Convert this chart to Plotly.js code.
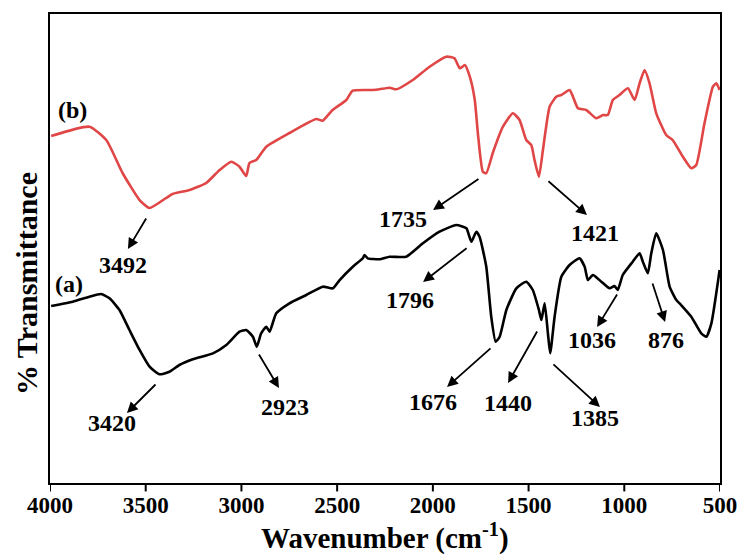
<!DOCTYPE html>
<html>
<head>
<meta charset="utf-8">
<script src="https://cdn.plot.ly/plotly-3.0.1.min.js"></script>
<style>html,body{margin:0;padding:0;background:#fff;}#chart{width:740px;height:556px;}</style>
</head>
<body>
<div id="chart"></div>
<script>
// Sample (b) – red curve
const wnB = [3994,3794,3706,3621,3532,3480,3393,3360,3271,3184,3114,3053,3010,2975,2958,2923,2870,2749,2609,2576,2524,2452,2419,2315,2279,2225,2191,2105,2017,1930,1887,1859,1833,1807,1781,1765,1739,1721,1687,1634,1582,1547,1512,1486,1469,1446,1425,1390,1355,1329,1286,1268,1242,1199,1146,1112,1086,1060,1025,981,946,920,894,868,833,781,747,694,650,624,581,537,519,502];
const tB = [73.99,75.97,73.13,66.10,60.34,58.64,60.77,61.62,62.47,63.97,66.74,68.51,67.44,65.46,68.23,68.87,71.71,74.63,77.61,77.25,79.53,81.66,83.65,83.80,83.94,84.29,83.94,85.93,88.76,90.90,90.55,88.42,89.13,86.63,81.66,74.63,66.38,66.04,70.36,75.97,78.83,77.40,73.13,72.07,68.87,65.31,71.00,80.23,82.37,82.73,83.80,82.37,79.89,79.53,77.76,78.46,78.46,81.66,82.73,84.16,81.66,85.23,88.06,85.23,78.83,74.20,73.13,69.57,67.10,67.81,76.70,84.50,85.23,83.80];

// Sample (a) – black curve
const wnA = [3994,3881,3794,3733,3689,3637,3585,3532,3480,3428,3376,3324,3254,3149,3079,3010,2975,2940,2920,2897,2870,2853,2818,2749,2661,2575,2522,2487,2418,2366,2357,2340,2279,2226,2139,2052,1965,1878,1825,1799,1773,1756,1721,1695,1672,1651,1616,1564,1512,1478,1446,1433,1416,1399,1387,1364,1329,1286,1234,1207,1190,1164,1120,1077,1051,1034,1008,956,920,903,877,859,833,798,763,728,703,650,598,571,545,502];
const tA = [37.74,38.66,39.72,40.30,39.38,36.89,32.62,28.36,24.80,23.18,23.73,25.16,26.38,27.65,29.42,32.26,32.62,31.19,29.06,31.92,33.33,32.26,36.18,38.32,40.09,41.86,41.51,43.28,46.12,47.91,48.61,47.91,47.70,48.25,48.25,51.11,53.58,55.01,54.31,51.45,53.58,52.52,46.12,35.46,30.13,31.19,36.89,41.51,42.92,41.15,36.89,34.75,38.32,31.92,27.65,35.46,43.99,46.48,47.91,46.12,43.28,44.35,42.92,41.51,42.00,41.15,44.35,47.18,48.98,47.18,44.71,48.98,53.24,49.68,41.86,39.02,37.95,35.46,31.92,31.19,34.05,45.42];

// Peak labels: text, label position (wavenumber, value)
const peakText = ["3492","1735","1421","1796","1676","1440","1385","1036","876","3420","2923"];
const peakLabelX = [3619,2156,1153,2119,2000,1607,1153,1169,782,3676,2772];
const peakLabelY = [46.48,56.29,53.31,39.02,17.27,17.06,13.86,30.49,30.49,12.79,16.20];
// Arrow tails and tips
const arrowTailX = [3493,1754,1404,1816,1691,1451,1378,1033,855,3441,2913];
const arrowTailY = [56.72,65.03,64.61,50.32,29.00,32.62,25.59,40.51,42.86,21.32,27.72];
const arrowTipX = [3593,1999,1195,2051,1926,1607,1127,1142,787,3598,2804];
const arrowTipY = [49.89,58.21,57.14,42.86,20.47,21.32,16.20,33.26,34.33,14.93,20.26];

// Curve names
const curveNames = ["(b)","(a)"];
const curveLabelX = [3880,3901];
const curveLabelY = [79.53,42.43];

// Axis ticks
const tickValues = [4000,3500,3000,2500,2000,1500,1000,500];

const FONT = "'Liberation Serif','Times New Roman',serif";

const traces = [
  {x: wnB, y: tB, mode: 'lines', line: {color: '#e04646', width: 2.6, shape: 'spline', smoothing: 0.5}, hoverinfo: 'skip'},
  {x: wnA, y: tA, mode: 'lines', line: {color: '#000000', width: 2.6, shape: 'spline', smoothing: 0.5}, hoverinfo: 'skip'}
];

const ann = [];
for (let i = 0; i < peakText.length; i++) {
  ann.push({x: peakLabelX[i], y: peakLabelY[i], xref: 'x', yref: 'y', text: '<b>' + peakText[i] + '</b>',
            showarrow: false, font: {family: FONT, size: 24, color: '#000'}});
  ann.push({x: arrowTipX[i], y: arrowTipY[i], xref: 'x', yref: 'y', ax: arrowTailX[i], ay: arrowTailY[i],
            axref: 'x', ayref: 'y', text: '', showarrow: true, arrowhead: 2, arrowsize: 1.2, arrowwidth: 1.8, arrowcolor: '#000'});
}
for (let i = 0; i < curveNames.length; i++) {
  ann.push({x: curveLabelX[i], y: curveLabelY[i], xref: 'x', yref: 'y', text: '<b>' + curveNames[i] + '</b>',
            showarrow: false, font: {family: FONT, size: 24, color: '#000'}});
}
ann.push({x: -0.036, y: 0.426, xref: 'paper', yref: 'paper', xanchor: 'center', yanchor: 'middle',
          text: '<b>% Transmittance</b>', textangle: -90,
          showarrow: false, font: {family: FONT, size: 30, color: '#000'}});
// x-axis title drawn as annotation for exact placement
ann.push({x: 0.5, y: 0, xref: 'paper', yref: 'paper', xanchor: 'center', yanchor: 'middle', yshift: -53,
          text: '<b>Wavenumber (cm<sup>-1</sup>)</b>', showarrow: false, font: {family: FONT, size: 29, color: '#000'}});

// Outside tick marks drawn as shapes at the tick values
const tickShapes = tickValues.map(v => ({type: 'line', xref: 'x', yref: 'paper', x0: v, x1: v, y0: 0, y1: -0.018,
                                         line: {color: '#000', width: 2}}));

const layout = {
  width: 740, height: 556,
  margin: {l: 50, r: 20, t: 14, b: 73},
  paper_bgcolor: '#fff', plot_bgcolor: '#fff',
  showlegend: false,
  xaxis: {
    range: [4000, 500], tickvals: tickValues,
    ticktext: tickValues.map(v => '<b>' + v + '</b>'),
    showline: true, mirror: true, linecolor: '#000', linewidth: 2,
    ticks: '', showgrid: false, zeroline: false,
    tickfont: {family: FONT, size: 23, color: '#000'}
  },
  yaxis: {
    range: [0, 100], showline: true, mirror: true, linecolor: '#000', linewidth: 2,
    ticks: '', showticklabels: false, showgrid: false, zeroline: false
  },
  shapes: tickShapes,
  annotations: ann
};

Plotly.newPlot('chart', traces, layout, {staticPlot: true});
</script>
</body>
</html>
